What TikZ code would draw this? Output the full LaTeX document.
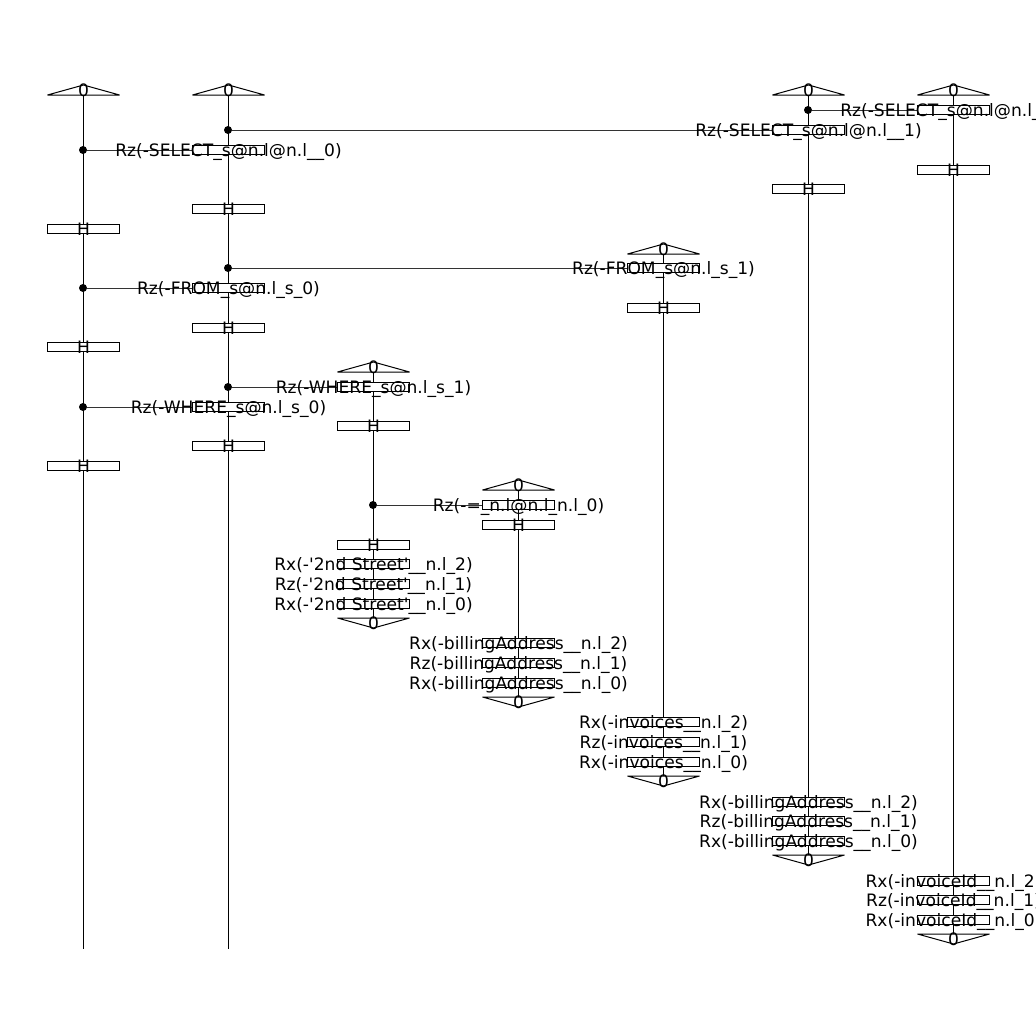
\documentclass[tikz,border=0pt]{standalone}
\usepackage{fontspec}
\setmainfont{DejaVu Sans}
\usetikzlibrary{calc}
\newcommand{\aq}{\XeTeXglyph\XeTeXcharglyph"0027 }
\tikzset{
  x=1pt,y=-1pt,
  wire/.style={draw=black,line width=1pt},
  ctrlline/.style={draw=black!80,line width=1pt},
  gatebox/.style={draw=black,line width=1pt,fill=white,minimum width=72.5pt,minimum height=9.5pt,inner sep=0pt,outer sep=0pt},
  gatetext/.style={font=\fontsize{17.1}{17.1}\selectfont,inner sep=0pt,anchor=center,text depth=0pt},
  dotmark/.style={circle,fill=black,minimum size=8pt,inner sep=0pt,outer sep=0pt},
  tri/.style={draw=black,line width=1pt,fill=white,line join=bevel},
}
\newcommand{\hgate}[3]{\node[gatebox] (#1) at (#2+.5,#3) {}; \node[gatetext] (#1t) at (#2+.5,#3) {H};}
\newcommand{\topz}[3]{\coordinate (#1) at (#2+.5,#3);
  \draw[tri] (#2+.5-36,#3+5) -- (#2+.5,#3-5) -- (#2+.5+36,#3+5) -- cycle;
  \node[gatetext] (#1t) at (#2+.5,#3) {0};}
\newcommand{\botz}[3]{\coordinate (#1) at (#2+.5,#3);
  \draw[tri] (#2+.5-36,#3-5) -- (#2+.5,#3+5) -- (#2+.5+36,#3-5) -- cycle;
  \node[gatetext] (#1t) at (#2+.5,#3) {0};}
\begin{document}
\begin{tikzpicture}
\useasboundingbox (0,0) rectangle (1036,1036);
% wire ends
\coordinate (qa) at (83,90); \coordinate (qaend) at (83,949);
\coordinate (qb) at (228,90); \coordinate (qbend) at (228,949);
\coordinate (qc) at (373,367); \coordinate (qcend) at (373,623);
\coordinate (qd) at (518,485); \coordinate (qdend) at (518,702);
\coordinate (qe) at (663,249); \coordinate (qeend) at (663,781);
\coordinate (qf) at (808,90); \coordinate (qfend) at (808,860);
\coordinate (qg) at (953,90); \coordinate (qgend) at (953,939);
\foreach \p/\q in {qa/qaend,qb/qbend,qc/qcend,qd/qdend,qe/qeend,qf/qfend,qg/qgend}
  \draw[wire] (\p) -- (\q);
% control dots
\node[dotmark] (d1) at (808,110) {};
\node[dotmark] (d2) at (228,130) {};
\node[dotmark] (d3) at (83,150) {};
\node[dotmark] (d4) at (228,268) {};
\node[dotmark] (d5) at (83,288) {};
\node[dotmark] (d6) at (228,387) {};
\node[dotmark] (d7) at (83,407) {};
\node[dotmark] (d8) at (373,505) {};
% boxes
\node[gatebox] (z1) at (953.5,110) {};
\node[gatebox] (z2) at (808.5,130) {};
\node[gatebox] (z3) at (228.5,150) {};
\node[gatebox] (z4) at (663.5,268) {};
\node[gatebox] (z5) at (228.5,288) {};
\node[gatebox] (z6) at (373.5,387) {};
\node[gatebox] (z7) at (228.5,407) {};
\node[gatebox] (z8) at (518.5,505) {};
\foreach \n/\m in {d1/z1,d2/z2,d3/z3,d4/z4,d5/z5,d6/z6,d7/z7,d8/z8}
  \draw[ctrlline] (\n) -- (\m);
% top states
\topz{ta}{83}{90}\topz{tb}{228}{90}\topz{tf}{808}{90}\topz{tg}{953}{90}
\topz{te}{663}{249}\topz{tc}{373}{367}\topz{td}{518}{485}
% H gates
\hgate{ha}{953}{170}\hgate{hb}{808}{189}\hgate{hc}{228}{209}\hgate{hd}{83}{229}
\hgate{he}{663}{308}\hgate{hf}{228}{328}\hgate{hg}{83}{347}\hgate{hh}{373}{426}
\hgate{hi}{228}{446}\hgate{hj}{83}{466}\hgate{hk}{518}{525}\hgate{hl}{373}{545}
% rotation boxes
\foreach \n/\x/\y in {ra/373.5/564,rb/373.5/584,rc/373.5/604,rd/518.5/643,re/518.5/663,rf/518.5/683,rg/663.5/722,rh/663.5/742,ri/663.5/762,rj/808.5/802,rk/808.5/821,rl/808.5/841,rm/953.5/881,rn/953.5/900,ro/953.5/920}
  \node[gatebox] (\n) at (\x,\y) {};
% bottom states
\botz{ba}{373}{623}\botz{bb}{518}{702}\botz{bc}{663}{781}\botz{bd}{808}{860}\botz{be}{953}{939}
% labels
\node[gatetext] (l1) at (z1) {Rz(-SELECT\_s@n.l@n.l\_\_2)};
\node[gatetext] (l2) at (z2) {Rz(-SELECT\_s@n.l@n.l\_\_1)};
\node[gatetext] (l3) at (z3) {Rz(-SELECT\_s@n.l@n.l\_\_0)};
\node[gatetext] (l4) at (z4) {Rz(-FROM\_s@n.l\_s\_1)};
\node[gatetext] (l5) at (z5) {Rz(-FROM\_s@n.l\_s\_0)};
\node[gatetext] (l6) at (z6) {Rz(-WHERE\_s@n.l\_s\_1)};
\node[gatetext] (l7) at (z7) {Rz(-WHERE\_s@n.l\_s\_0)};
\node[gatetext] (l8) at (z8) {Rz(-=\_n.l@n.l\_n.l\_0)};
\node[gatetext] (la) at (ra) {Rx(-\aq 2nd Street\aq\_\_n.l\_2)};
\node[gatetext] (lb) at (rb) {Rz(-\aq 2nd Street\aq\_\_n.l\_1)};
\node[gatetext] (lc) at (rc) {Rx(-\aq 2nd Street\aq\_\_n.l\_0)};
\node[gatetext] (ld) at (rd) {Rx(-billingAddress\_\_n.l\_2)};
\node[gatetext] (le) at (re) {Rz(-billingAddress\_\_n.l\_1)};
\node[gatetext] (lf) at (rf) {Rx(-billingAddress\_\_n.l\_0)};
\node[gatetext] (lg) at (rg) {Rx(-invoices\_\_n.l\_2)};
\node[gatetext] (lh) at (rh) {Rz(-invoices\_\_n.l\_1)};
\node[gatetext] (li) at (ri) {Rx(-invoices\_\_n.l\_0)};
\node[gatetext] (lj) at (rj) {Rx(-billingAddress\_\_n.l\_2)};
\node[gatetext] (lk) at (rk) {Rz(-billingAddress\_\_n.l\_1)};
\node[gatetext] (ll) at (rl) {Rx(-billingAddress\_\_n.l\_0)};
\node[gatetext] (lm) at (rm) {Rx(-invoiceId\_\_n.l\_2)};
\node[gatetext] (ln) at (rn) {Rz(-invoiceId\_\_n.l\_1)};
\node[gatetext] (lo) at (ro) {Rx(-invoiceId\_\_n.l\_0)};
\end{tikzpicture}
\end{document}
